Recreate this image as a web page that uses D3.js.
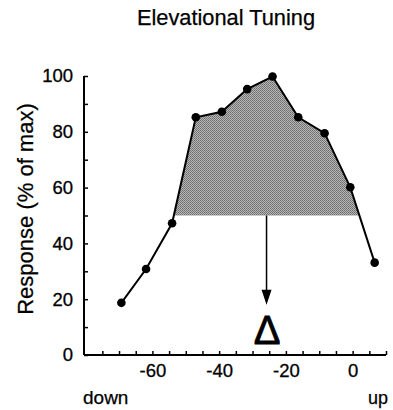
<!DOCTYPE html>
<html><head><meta charset="utf-8">
<script src="https://cdn.jsdelivr.net/npm/d3@7"></script>
<style>html,body{margin:0;padding:0;background:#fff}svg{display:block}text{font-family:"Liberation Sans",Arial,Helvetica,sans-serif;fill:#000}</style>
</head><body>
<script>
// Data
const elevation = [-69.3, -61.9, -54.1, -47, -39.2, -31.6, -24, -16.3, -8.4, -0.7, 6.6];
const response  = [18.7, 30.8, 47.2, 85.2, 87.2, 95.3, 99.8, 85.2, 79.5, 60.1, 33.1];
const threshold = 50;
const bestElevation = -25.8;   // arrow position (centroid of shaded area)
const arrowTip = 18;
const xTickLabels = [-60, -40, -20, 0];
const yTickLabels = [0, 20, 40, 60, 80, 100];
const title = "Elevational Tuning";
const yLabel = "Response (% of max)";
const xEndLabels = ["down", "up"];

const W = 393, H = 410;
const svg = d3.select("body").append("svg").attr("width", W).attr("height", H);

const x = d3.scaleLinear().domain([-80.5, 10]).range([84, 386]);
const y = d3.scaleLinear().domain([0, 100]).range([355, 76]);

// Shaded area above threshold
const pts = elevation.map((e, i) => [e, response[i]]);
const poly = [];
for (let i = 0; i < pts.length; i++) {
  const [e, r] = pts[i];
  if (i > 0) {
    const [e0, r0] = pts[i - 1];
    if ((r0 - threshold) * (r - threshold) < 0) {
      const t = (threshold - r0) / (r - r0);
      poly.push([e0 + t * (e - e0), threshold]);
    }
  }
  if (r >= threshold) poly.push([e, r]);
}
const defs = svg.append("defs");
const pat = defs.append("pattern").attr("id", "dots").attr("width", 2).attr("height", 2)
  .attr("patternUnits", "userSpaceOnUse");
pat.append("rect").attr("width", 2).attr("height", 2).attr("fill", "#b8b8b8");
pat.append("rect").attr("width", 1).attr("height", 1).attr("fill", "#6a6a6a");
pat.append("rect").attr("x", 1).attr("y", 1).attr("width", 1).attr("height", 1).attr("fill", "#7a7a7a");

svg.append("path")
  .attr("d", d3.line().x(d => x(d[0])).y(d => y(d[1]))(poly) + "Z")
  .attr("fill", "url(#dots)");

// Axes
const yAxis = d3.axisLeft(y).tickValues(d3.range(0, 101, 10)).tickSize(-4)
  .tickFormat(d => yTickLabels.includes(d) ? d : "").tickPadding(11);
const gy = svg.append("g").attr("transform", `translate(${x(-80.5)},0)`).call(yAxis);
const xAxis = d3.axisBottom(x).tickValues(d3.range(-75, 10.1, 5)).tickSize(-4)
  .tickFormat(d => xTickLabels.includes(d) ? d : "").tickPadding(9);
const gx = svg.append("g").attr("transform", `translate(0,${y(0)})`).call(xAxis);
[gx, gy].forEach(g => {
  g.select(".domain").attr("stroke", "#000").attr("stroke-width", 2);
  g.selectAll(".tick line").attr("stroke", "#000").attr("stroke-width", 1.5);
  g.selectAll(".tick text").attr("font-size", 18.5).attr("font-family", "Liberation Sans, Arial, sans-serif")
    .attr("fill", "#000").attr("stroke", "#000").attr("stroke-width", 0.3);
});
gx.select(".domain").attr("d", `M${x(-80.5)},0H${x(10)}`);
gy.select(".domain").attr("d", `M0,${y(100)}V${y(0)}`);
gx.selectAll(".tick text").attr("dy", "0.71em");

// Line and points
svg.append("path")
  .attr("d", d3.line().x(d => x(d[0])).y(d => y(d[1]))(pts))
  .attr("fill", "none").attr("stroke", "#000").attr("stroke-width", 2);
svg.selectAll("circle.pt").data(pts).enter().append("circle")
  .attr("cx", d => x(d[0])).attr("cy", d => y(d[1])).attr("r", 4.3).attr("fill", "#000");

// Arrow
const ax = x(bestElevation);
svg.append("line").attr("x1", ax).attr("x2", ax).attr("y1", y(threshold)).attr("y2", y(arrowTip) - 12)
  .attr("stroke", "#000").attr("stroke-width", 1.5);
svg.append("path")
  .attr("d", `M${ax - 5},${y(arrowTip) - 15}L${ax + 5},${y(arrowTip) - 15}L${ax},${y(arrowTip)}Z`)
  .attr("fill", "#000");
svg.append("text").attr("x", ax + 0.5).attr("y", 343.5).attr("text-anchor", "middle")
  .attr("font-size", 40).attr("stroke", "#000").attr("stroke-width", 0.8)
  .text("Δ");

// Titles
svg.append("text").attr("x", 226).attr("y", 25).attr("text-anchor", "middle")
  .attr("font-size", 21.8).attr("stroke", "#000").attr("stroke-width", 0.25).text(title);
svg.append("text").attr("transform", "translate(33,209) rotate(-90)").attr("text-anchor", "middle")
  .attr("font-size", 22).attr("stroke", "#000").attr("stroke-width", 0.25).text(yLabel);
svg.append("text").attr("x", 83).attr("y", 404).attr("font-size", 19).attr("stroke", "#000").attr("stroke-width", 0.25).text(xEndLabels[0]);
svg.append("text").attr("x", 388).attr("y", 404).attr("text-anchor", "end").attr("font-size", 18).attr("stroke", "#000").attr("stroke-width", 0.25).text(xEndLabels[1]);
</script>
</body></html>
